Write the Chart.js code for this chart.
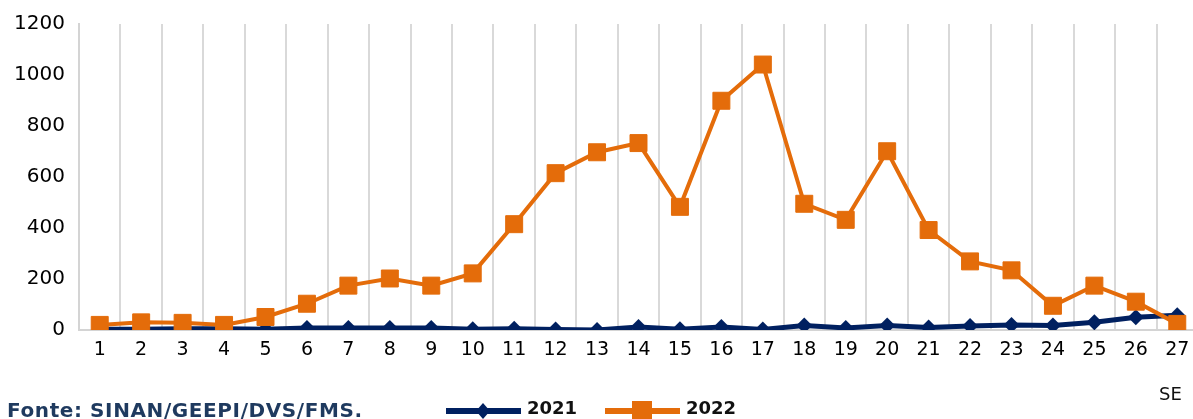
<!DOCTYPE html>
<html lang="pt">
<head>
<meta charset="utf-8">
<title>Casos por SE</title>
<script src="https://cdn.jsdelivr.net/npm/chart.js@4.4.1/dist/chart.umd.min.js"></script>
<style>
    html, body { margin: 0; padding: 0; background: #fff; overflow: hidden; }
    #wrap { position: relative; width: 1193px; height: 419px; overflow: hidden; }
</style>
</head>
<body>
<div id="wrap"><canvas id="chart" width="1211" height="419"></canvas></div>
<script>
    // semanas epidemiológicas e casos
    const semanas = ['1','2','3','4','5','6','7','8','9','10','11','12','13','14','15','16','17','18','19','20','21','22','23','24','25','26','27'];
    const casos2021 = [3, 3, 5, 5, 3, 8, 8, 8, 8, 3, 5, 2, 0, 12, 3, 12, 2, 18, 8, 18, 10, 16, 20, 18, 30, 50, 58];
    const casos2022 = [20, 30, 28, 20, 51, 103, 174, 202, 174, 222, 415, 615, 697, 733, 483, 899, 1041, 495, 432, 701, 392, 269, 234, 95, 174, 111, 24];
    const yTicks = [0, 200, 400, 600, 800, 1000, 1200];

    const NAVY = '#002060';
    const ORANGE = '#E46C0A';

    // legenda + fonte + "SE" desenhados à mão (estilo Excel)
    const extras = {
        id: 'extras',
        afterDraw(chart) {
            const ctx = chart.ctx;
            ctx.save();
            ctx.textBaseline = 'alphabetic';
            ctx.textAlign = 'left';

            ctx.fillStyle = '#1f3a5f';
            ctx.font = 'bold 20px "DejaVu Sans"';
            ctx.letterSpacing = '0.6px';
            ctx.fillText('Fonte: SINAN/GEEPI/DVS/FMS.', 7, 417);
            ctx.letterSpacing = '0px';

            ctx.fillStyle = '#111';
            ctx.font = '18px "DejaVu Sans"';
            ctx.fillText('SE', 1159, 400);

            const items = [
                { label: '2021', color: NAVY, x: 446, style: 'diamond' },
                { label: '2022', color: ORANGE, x: 605, style: 'square' }
            ];
            const ly = 411;
            items.forEach(it => {
                ctx.strokeStyle = it.color;
                ctx.lineWidth = 6;
                ctx.beginPath();
                ctx.moveTo(it.x, ly);
                ctx.lineTo(it.x + 75, ly);
                ctx.stroke();
                ctx.fillStyle = it.color;
                const cx = it.x + 37;
                if (it.style === 'diamond') {
                    ctx.beginPath();
                    ctx.moveTo(cx, ly - 8);
                    ctx.lineTo(cx + 7, ly);
                    ctx.lineTo(cx, ly + 8);
                    ctx.lineTo(cx - 7, ly);
                    ctx.closePath();
                    ctx.fill();
                } else {
                    ctx.fillRect(cx - 10, ly - 10, 20, 20);
                }
                ctx.fillStyle = '#111';
                ctx.font = 'bold 18px "DejaVu Sans"';
                ctx.fillText(it.label, it.x + 81, 414);
            });
            ctx.restore();
        }
    };

    new Chart(document.getElementById('chart'), {
        type: 'line',
        data: {
            labels: semanas,
            datasets: [
                {
                    label: '2021',
                    data: casos2021,
                    borderColor: NAVY,
                    backgroundColor: NAVY,
                    borderWidth: 5,
                    pointStyle: 'rectRot',
                    pointRadius: 8,
                    pointBorderWidth: 0,
                    tension: 0,
                    order: 2
                },
                {
                    label: '2022',
                    data: casos2022,
                    borderColor: ORANGE,
                    backgroundColor: ORANGE,
                    borderWidth: 4,
                    pointStyle: 'rect',
                    pointRadius: 12,
                    pointBorderWidth: 1,
                    tension: 0,
                    order: 1
                }
            ]
        },
        options: {
            responsive: false,
            animation: false,
            layout: { padding: { top: 24, left: 0, right: 0, bottom: 0 } },
            plugins: { legend: { display: false }, tooltip: { enabled: false } },
            scales: {
                x: {
                    offset: true,
                    grid: { display: true, color: '#d9d9d9', lineWidth: 2, offset: true, drawTicks: false },
                    border: { display: true, color: '#d4d4d4', width: 2 },
                    ticks: { color: '#000', font: { family: 'DejaVu Sans', size: 19 }, padding: 9, maxRotation: 0, autoSkip: false },
                    afterFit(scale) { scale.height = 89; }
                },
                y: {
                    min: 0,
                    max: 1200,
                    afterBuildTicks(scale) { scale.ticks = yTicks.map(v => ({ value: v })); },
                    grid: { display: false },
                    border: { display: true, color: '#d4d4d4', width: 2 },
                    ticks: {
                        color: '#000',
                        font: { family: 'DejaVu Sans', size: 20 },
                        padding: 6,
                        callback: v => String(v)
                    },
                    afterFit(scale) { scale.width = 79; }
                }
            }
        },
        plugins: [extras]
    });
</script>
</body>
</html>
